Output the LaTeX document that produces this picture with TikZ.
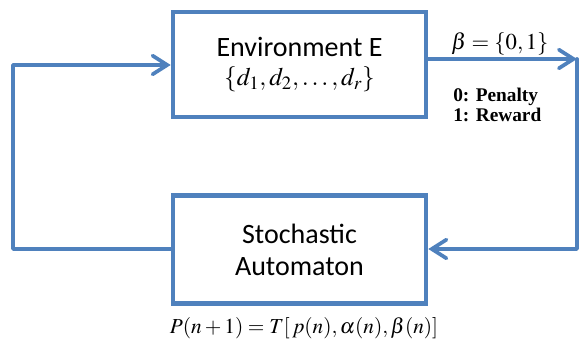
\documentclass[tikz,border=0pt]{standalone}
\usepackage{mathptmx}
\usepackage[no-math]{fontspec}
\setmainfont{Carlito}
\newfontfamily\timesfont{Liberation Serif}
\usetikzlibrary{arrows.meta}
\usetikzlibrary{calc}
\definecolor{boxblue}{HTML}{4F81BD}

\begin{document}
\begin{tikzpicture}[x=0.75pt,y=0.75pt]

		\tikzstyle{block} = [rectangle, draw=boxblue, line width=3.2pt, minimum width=190pt, inner sep=0pt, align=center, font=\fontsize{21}{24}\selectfont]
		\tikzstyle{link}  = [draw=boxblue, line width=2.8pt, line cap=round, line join=round]
		\tikzstyle{tip}   = [-{Straight Barb[length=11pt,width=14pt,line cap=round]}]
		\useasboundingbox (0,0) rectangle (579,341);
		%%Blocks
		\node [block, minimum height=79pt, font=\fontsize{21}{22}\selectfont](env) at (299.5,276.5) {Environment E\\ {\fontsize{19}{22}\selectfont$\{d_1,d_2,\ldots,d_r\}$}};
		\node [block, minimum height=81pt](auto) at (299.5,91.5) {Stochastic\\Automaton};
		%%Labels
		\node [inner sep=0pt, font=\fontsize{17}{17}\selectfont](beta) at (500,297) {$\beta=\{0,1\}$};
		\node [anchor=north west, align=left, inner sep=0pt, font=\timesfont\bfseries\fontsize{14.5}{15}\selectfont](code) at (453,253) {0: Penalty\\1: Reward};
		\node [inner sep=0pt, font=\fontsize{16}{16}\selectfont](rule) at (304,13) {$P(n+1)=T[\,p(n),\alpha(n),\beta(n)]$};
		%%Corners
		\coordinate (lb) at (13,92);
		\coordinate (lt) at (13,276);
		\coordinate (rt) at (577,282);
		\coordinate (rb) at (577,92);
		%%Edges
		\draw [link, tip] (auto.west |- lb) -- (lb) -- (lt) -- (lt -| env.west);
		\draw [link, tip] (env.east |- rt) -- (rt);
		\draw [link, tip] (rt) -- (rb) -- (rb -| auto.east);
	\end{tikzpicture}
\end{document}
